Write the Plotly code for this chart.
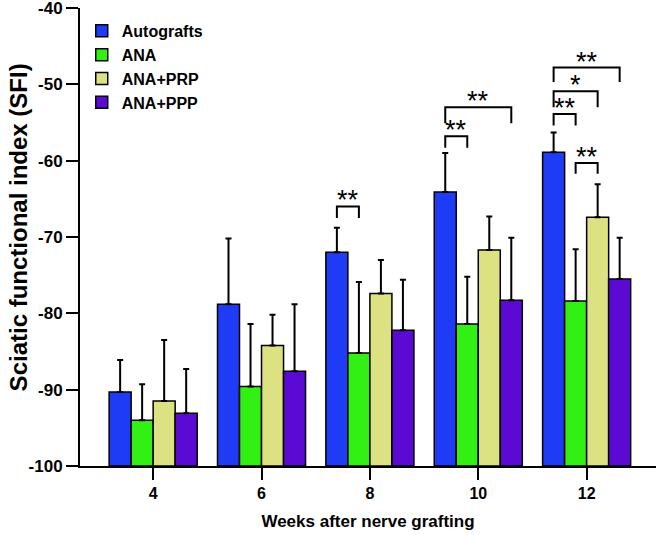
import plotly.graph_objects as go

weeks = [4, 6, 8, 10, 12]
series_names = ["Autografts", "ANA", "ANA+PRP", "ANA+PPP"]
colors = ["#1e3cf5", "#33f014", "#dce182", "#5a0ad2"]

autografts = [-90.3, -78.8, -72.0, -64.1, -58.9]
ana = [-94.0, -89.6, -85.2, -81.4, -78.4]
ana_prp = [-91.5, -84.2, -77.4, -71.7, -67.4]
ana_ppp = [-93.1, -87.6, -82.2, -78.3, -75.5]

autografts_err = [4.2, 8.6, 3.2, 5.1, 2.6]
ana_err = [4.7, 8.2, 9.3, 6.2, 6.8]
ana_prp_err = [8.0, 4.0, 4.4, 4.4, 4.3]
ana_ppp_err = [5.8, 8.8, 6.6, 8.2, 5.4]

y_ticks = [-100, -90, -80, -70, -60, -50, -40]
y_ticktext = ["-100", "-90", "-80", "-70", "-60", "-50", "-40"]
baseline = -100

# significance brackets: (week, from series idx, to series idx, top value, leg drop, label)
br_week = [8, 10, 10, 12, 12, 12, 12]
br_from = [0, 0, 0, 0, 0, 0, 1]
br_to = [1, 1, 3, 1, 2, 3, 2]
br_top = [-66.0, -56.8, -53.0, -53.9, -50.9, -47.8, -60.3]
br_drop = [1.5, 1.5, 2.1, 1.5, 2.1, 1.9, 1.4]
br_label = ["**", "**", "**", "**", "*", "**", "**"]

values = [autografts, ana, ana_prp, ana_ppp]
errors = [autografts_err, ana_err, ana_prp_err, ana_ppp_err]

FONT = "Liberation Sans, Arial"
bargap = 0.1875
fig = go.Figure()
for name, col, vals, errs in zip(series_names, colors, values, errors):
    fig.add_trace(go.Bar(
        x=weeks,
        y=[v - baseline for v in vals],
        base=baseline,
        name=name,
        marker=dict(color=col, line=dict(color="black", width=1.5)),
        error_y=dict(type="data", symmetric=False, array=errs,
                     arrayminus=[0] * len(errs), color="black",
                     thickness=2, width=3),
    ))

bar_w = 2 * (1 - bargap) / 4
def center(week, i):
    return week + (i - 1.5) * bar_w

for wk, a, b, top, drop, lab in zip(br_week, br_from, br_to, br_top, br_drop, br_label):
    x0 = center(wk, a)
    x1 = center(wk, b)
    fig.add_shape(type="path",
                  path=f"M {x0} {top - drop} L {x0} {top} L {x1} {top} L {x1} {top - drop}",
                  xref="x", yref="y", line=dict(color="black", width=2))
    fig.add_annotation(x=(x0 + x1) / 2, y=top, text=lab, showarrow=False,
                       xref="x", yref="y", yanchor="bottom", yshift=-11,
                       font=dict(size=27, color="black", family=FONT))

# y-axis title as a rotated annotation (sits slightly above the plot centre)
fig.add_annotation(text="Sciatic functional index (SFI)", textangle=-90,
                   xref="paper", yref="paper", x=0, y=0.521,
                   xanchor="center", yanchor="middle", xshift=-62, showarrow=False,
                   font=dict(size=24, weight="bold", color="black", family=FONT))

fig.update_layout(
    width=660, height=535,
    margin=dict(l=80, r=4, t=8, b=69, autoexpand=False),
    barmode="group", bargap=bargap, bargroupgap=0,
    plot_bgcolor="white", paper_bgcolor="white",
    font=dict(family=FONT, color="black"),
    showlegend=True,
    legend=dict(x=0.003, y=0.987, xanchor="left", yanchor="top",
                font=dict(size=16, family=FONT, weight="bold"),
                bgcolor="rgba(0,0,0,0)", tracegroupgap=0),
)
fig.update_xaxes(
    range=[2.65, 13.28], tickvals=weeks, ticktext=[str(w) for w in weeks],
    showline=True, linecolor="black", linewidth=2,
    ticks="outside", ticklen=12, tickwidth=2, tickcolor="black",
    showgrid=False, zeroline=False, automargin=False,
    tickfont=dict(size=16, weight="bold"),
    title=dict(text="Weeks after nerve grafting", font=dict(size=17, weight="bold"), standoff=14),
)
fig.update_yaxes(
    range=[-100, -40], tickvals=y_ticks, ticktext=y_ticktext,
    showline=True, linecolor="black", linewidth=2,
    ticks="outside", ticklen=12, tickwidth=2, tickcolor="black",
    showgrid=False, zeroline=False, automargin=False,
    ticklabeloverflow="allow",
    tickfont=dict(size=17, weight="bold"),
)

fig.write_html("out.html", config={"displayModeBar": False},
               post_script="document.body.style.margin='0';document.body.style.overflow='hidden';")
